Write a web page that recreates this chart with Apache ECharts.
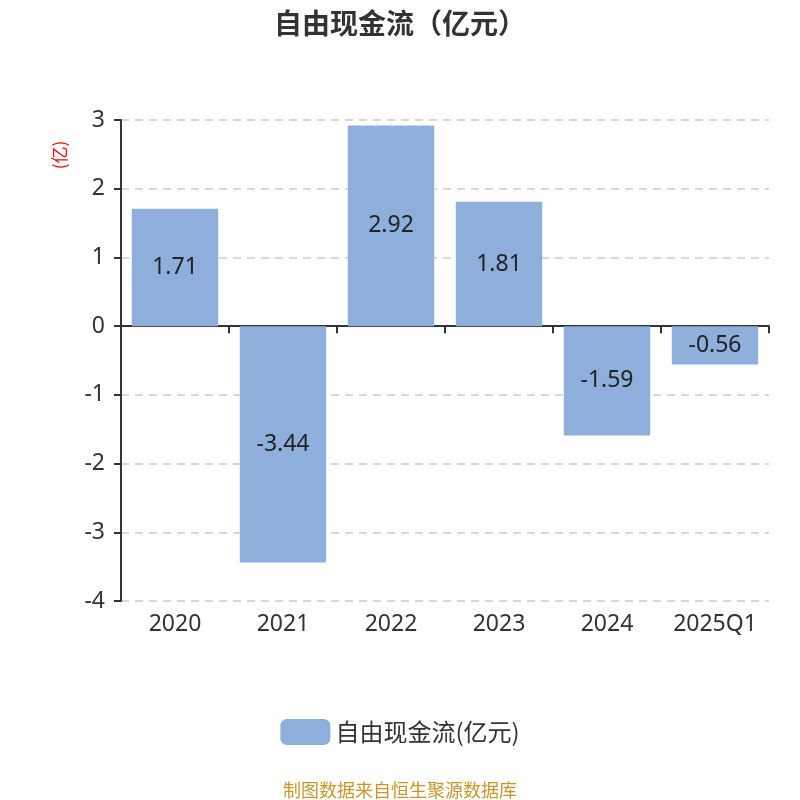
<!DOCTYPE html>
<html><head><meta charset="utf-8">
<script src="https://cdn.jsdelivr.net/npm/echarts@6/dist/echarts.min.js"></script>
<style>html,body{margin:0;padding:0;background:#fff}#c{width:800px;height:800px}</style>
</head><body><div id="c"></div>
<script>
const categories = ['2020','2021','2022','2023','2024','2025Q1'];
const values = [1.71, -3.44, 2.92, 1.81, -1.59, -0.56];
const seriesName = '自由现金流(亿元)';
const yTicks = {min: -4, max: 3, interval: 1};

const chart = echarts.init(document.getElementById('c'));
chart.setOption({
  animation: false,
  backgroundColor: '#fff',
  title: {
    text: '自由现金流（亿元）', left: 'center', top: 4,
    textStyle: {fontSize: 28, fontWeight: 'bold', color: '#333', fontFamily: 'Noto Sans CJK SC'}
  },
  graphic: [{
    type: 'text', x: 60, y: 155, rotation: Math.PI / 2,
    style: {text: '(亿)', fill: '#ff0000', fontSize: 17, fontFamily: 'Noto Sans CJK SC', align: 'center', verticalAlign: 'middle'}
  }],
  grid: {left: 121, right: 31, top: 120, bottom: 199},
  legend: {
    bottom: 50, left: 'center', itemWidth: 50, itemHeight: 26, itemGap: 10,
    textStyle: {fontSize: 24, color: '#333', fontFamily: 'Noto Sans CJK SC'},
    data: [{name: seriesName, icon: 'roundRect'}]
  },
  xAxis: [{
    type: 'category', data: categories, position: 'bottom',
    axisLine: {onZero: true, lineStyle: {color: '#333', width: 2}},
    axisTick: {show: true, length: 7, lineStyle: {color: '#333', width: 2}},
    axisLabel: {show: false}, splitLine: {show: false}
  }, {
    type: 'category', data: categories, position: 'bottom',
    axisLine: {show: false, onZero: false}, axisTick: {show: false},
    axisLabel: {fontSize: 23, color: '#333', margin: 12, interval: 0, fontFamily: 'Noto Sans'}
  }],
  yAxis: {
    type: 'value', min: yTicks.min, max: yTicks.max, interval: yTicks.interval,
    axisLine: {show: true, lineStyle: {color: '#333', width: 2}},
    axisTick: {show: true, length: 7, lineStyle: {color: '#333', width: 2}},
    axisLabel: {fontSize: 23, color: '#333', margin: 16, fontFamily: 'Noto Sans'},
    splitLine: {lineStyle: {type: [8, 6], color: '#ccc', width: 1.5}}
  },
  series: [{
    name: seriesName, type: 'bar', xAxisIndex: 0, data: values,
    barCategoryGap: '20%',
    itemStyle: {color: '#8eafdb'},
    label: {show: true, position: 'inside', fontSize: 23, color: '#222', fontFamily: 'Noto Sans'}
  }]
});
</script>
<div style="position:absolute;left:0;top:777px;width:800px;text-align:center;font:18px 'Noto Sans CJK SC';line-height:24px;color:#c8962a">制图数据来自恒生聚源数据库</div>
</body></html>
